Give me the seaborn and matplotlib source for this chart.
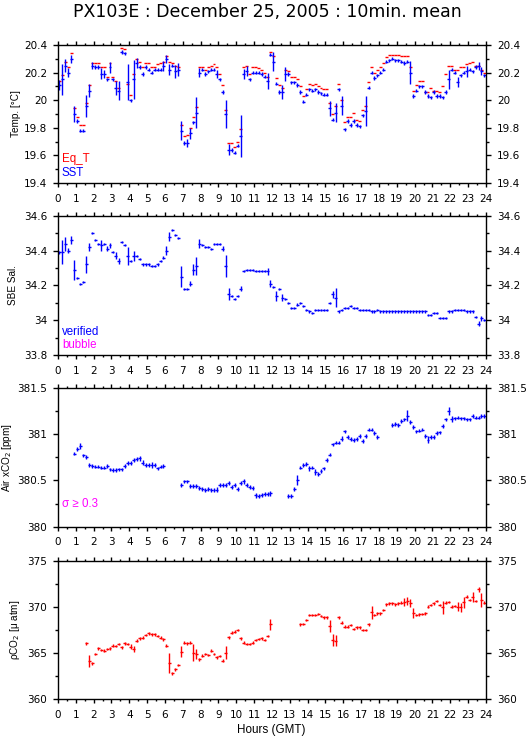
import numpy as np
import matplotlib
matplotlib.use("Agg")
import matplotlib.pyplot as plt
from matplotlib.ticker import MultipleLocator, FormatStrFormatter
import seaborn as sns

sns.set_style("ticks")
plt.rcParams["font.family"] = ["DejaVu Sans"]
plt.rcParams["text.color"] = "black"
plt.rcParams["axes.labelcolor"] = "black"

nan = np.nan

# 10 minute bins over the day (bin centres, hours GMT)
hours = np.arange(144) / 6 + 1 / 12

# ---- Temperature ----
sst = [
    20.11, 20.15, 20.25, 20.20, 20.30, 19.90, 19.85, 19.78, 19.78, 19.96,
    20.07, 20.25, 20.24, 20.24, 20.19, 20.19, 20.15, 20.24, 20.15, 20.09,
    20.07, 20.35, 20.34, 20.13, 20.00, 20.15, 20.27, 20.24, 20.19, 20.24,
    20.22, 20.20, 20.22, 20.22, 20.22, 20.25, 20.30, 20.22, 20.25, 20.21,
    20.22, 19.78, 19.69, 19.69, 19.76, 19.84, 19.91, 20.20, 20.22, 20.19,
    20.21, 20.22, 20.22, 20.19, 20.15, 20.06, 19.90, 19.64, 19.64, 19.62,
    19.67, 19.74, 20.19, 20.21, 20.15, 20.20, 20.20, 20.20, 20.19, 20.17,
    20.14, 20.33, 20.28, 20.12, 20.06, 20.06, 20.19, 20.19, 20.13, 20.13,
    20.11, 20.06, 19.99, 20.04, 20.08, 20.07, 20.08, 20.06, 20.05, 20.04,
    20.04, 19.94, 19.86, 19.91, 20.08, 19.96, 19.79, 19.85, 19.82, 19.85,
    19.82, 19.81, 19.89, 19.92, 20.09, 20.20, 20.16, 20.18, 20.20, 20.22,
    20.28, 20.29, 20.30, 20.29, 20.29, 20.28, 20.27, 20.28, 20.20, 20.03,
    20.07, 20.10, 20.10, 20.06, 20.03, 20.02, 20.06, 20.03, 20.03, 20.02,
    20.06, 20.15, 20.22, 20.20, 20.13, 20.18, 20.20, 20.21, 20.22, 20.21,
    20.24, 20.25, 20.21, 20.18,
]
eq_t = [
    20.14, 20.18, 20.28, 20.24, 20.34, 19.94, 19.88, 19.82, 19.82, 19.98,
    20.11, 20.27, 20.27, 20.27, 20.24, 20.24, 20.17, 20.27, 20.17, 20.14,
    20.09, 20.38, 20.37, 20.12, 20.04, 20.19, 20.30, 20.28, 20.24, 20.27,
    20.27, 20.24, 20.24, 20.26, 20.27, 20.28, 20.32, 20.28, 20.27, 20.25,
    20.24, 19.82, 19.74, 19.75, 19.80, 19.88, 19.95, 20.24, 20.24, 20.22,
    20.24, 20.25, 20.26, 20.24, 20.19, 20.11, 19.93, 19.69, 19.69, 19.66,
    19.70, 19.79, 20.24, 20.25, 20.19, 20.24, 20.24, 20.23, 20.22, 20.20,
    20.17, 20.35, 20.32, 20.16, 20.11, 20.09, 20.22, 20.21, 20.17, 20.17,
    20.15, 20.10, 20.03, 20.08, 20.12, 20.11, 20.12, 20.10, 20.09, 20.08,
    20.08, 19.98, 19.90, 19.96, 20.12, 20.00, 19.84, 19.88, 19.88, 19.91,
    19.86, 19.85, 19.93, 19.96, 20.13, 20.24, 20.20, 20.22, 20.24, 20.27,
    20.31, 20.33, 20.33, 20.33, 20.33, 20.32, 20.32, 20.32, 20.24, 20.07,
    20.11, 20.14, 20.14, 20.06, 20.06, 20.09, 20.07, 20.07, 20.06, 20.10,
    20.19, 20.25, 20.25, 20.22, 20.22, 20.24, 20.24, 20.26, 20.27, 20.28,
    20.25, 20.25, 20.22, 20.20,
]
sst_err_base = 0.012
sst_err_idx = [0, 1, 2, 3, 4, 5, 9, 10, 11, 14, 15, 17, 19, 20, 23, 25, 26, 35, 36, 37,
               39, 40, 41, 43, 44, 46, 47, 53, 56, 57, 61, 62, 63, 70, 72, 75, 76, 91, 93, 95,
               103, 118, 131, 134, 137, 141, 142]
sst_err_val = [0.036, 0.115, 0.048, 0.035, 0.027, 0.06, 0.08, 0.048, 0.027, 0.04, 0.027, 0.04,
               0.05, 0.07, 0.13, 0.14, 0.036, 0.036, 0.03, 0.04, 0.048, 0.048, 0.07, 0.03, 0.04,
               0.115, 0.035, 0.03, 0.1, 0.04, 0.15, 0.035, 0.036, 0.06, 0.07, 0.05, 0.05, 0.055,
               0.07, 0.07, 0.11, 0.085, 0.07, 0.035, 0.04, 0.03, 0.03]

# ---- Salinity ----
sal = [
    34.39, 34.39, 34.44, 34.40, 34.46, 34.29, 34.24, 34.21, 34.22, 34.32,
    34.42, 34.50, 34.46, 34.44, 34.43, 34.44, 34.41, 34.43, 34.39, 34.37,
    34.34, 34.45, 34.43, 34.37, 34.34, 34.37, 34.37, 34.35, 34.32, 34.32,
    34.32, 34.31, 34.31, 34.32, 34.34, 34.36, 34.40, 34.48, 34.52, 34.49,
    34.47, 34.25, 34.18, 34.18, 34.21, 34.29, 34.31, 34.44, 34.43, 34.42,
    34.42, 34.41, 34.44, 34.44, 34.44, 34.41, 34.31, 34.15, 34.14, 34.12,
    34.14, 34.18, 34.28, 34.29, 34.29, 34.29, 34.28, 34.28, 34.28, 34.28,
    34.28, 34.21, 34.19, 34.14, 34.18, 34.13, 34.12, 34.10, 34.07, 34.07,
    34.09, 34.10, 34.08, 34.06, 34.05, 34.04, 34.06, 34.06, 34.06, 34.06,
    34.06, 34.10, 34.15, 34.13, 34.05, 34.06, 34.07, 34.07, 34.08, 34.07,
    34.07, 34.06, 34.06, 34.06, 34.06, 34.05, 34.05, 34.06, 34.05, 34.05,
    34.05, 34.05, 34.05, 34.05, 34.05, 34.05, 34.05, 34.05, 34.05, 34.05,
    34.05, 34.05, 34.05, 34.05, 34.03, 34.03, 34.04, 34.04, 34.01, 34.01,
    34.01, 34.05, 34.05, 34.06, 34.06, 34.06, 34.06, 34.05, 34.05, 34.05,
    34.02, 33.98, 34.01, 34.00,
]
sal_err_base = 0.006
sal_err_idx = [0, 1, 2, 3, 4, 5, 9, 10, 14, 16, 17, 19, 20, 23, 25, 36, 37, 41, 44, 45,
               46, 47, 55, 56, 57, 61, 70, 71, 73, 75, 92, 93, 141, 142]
sal_err_val = [0.01, 0.07, 0.04, 0.015, 0.024, 0.057, 0.048, 0.024, 0.03, 0.015, 0.015, 0.02,
               0.02, 0.052, 0.03, 0.024, 0.024, 0.06, 0.015, 0.03, 0.052, 0.024, 0.015, 0.064,
               0.033, 0.015, 0.02, 0.02, 0.03, 0.02, 0.02, 0.057, 0.015, 0.015]

# ---- Air xCO2 ----
xco2 = [
    nan, nan, nan, nan, nan, 380.79, 380.84, 380.87, 380.77, 380.75,
    380.67, 380.66, 380.65, 380.65, 380.64, 380.64, 380.66, 380.62, 380.61, 380.61,
    380.62, 380.62, 380.66, 380.69, 380.69, 380.72, 380.73, 380.74, 380.69, 380.67,
    380.67, 380.67, 380.67, 380.63, 380.65, 380.66, nan, nan, nan, nan,
    nan, 380.45, 380.49, 380.49, 380.44, 380.44, 380.44, 380.42, 380.41, 380.40,
    380.41, 380.40, 380.40, 380.40, 380.45, 380.45, 380.45, 380.47, 380.43, 380.45,
    380.41, 380.47, 380.49, 380.45, 380.43, 380.42, 380.34, 380.33, 380.34, 380.35,
    380.35, 380.36, nan, nan, nan, nan, nan, 380.33, 380.33, 380.41,
    380.50, 380.64, 380.67, 380.68, 380.63, 380.64, 380.59, 380.57, 380.60, 380.63,
    380.72, 380.78, 380.89, 380.91, 380.91, 380.95, 381.03, 380.97, 380.95, 380.94,
    380.95, 380.98, 380.93, 380.98, 381.05, 381.05, 381.01, 380.97, nan, nan,
    nan, nan, 381.10, 381.11, 381.10, 381.14, 381.16, 381.20, 381.13, 381.08,
    381.03, 381.04, 381.05, 380.98, 380.94, 380.97, 380.97, 381.01, 381.02, 381.09,
    381.16, 381.25, 381.16, 381.17, 381.18, 381.17, 381.17, 381.16, 381.16, 381.20,
    381.18, 381.18, 381.20, 381.20,
]
xco2_err_base = 0.02
xco2_err_idx = [6, 7, 26, 27, 28, 31, 41, 53, 62, 66, 71, 78, 80, 84, 86, 95, 117, 124, 131, 132]
xco2_err_val = [0.025, 0.032, 0.025, 0.025, 0.027, 0.03, 0.023, 0.027, 0.027, 0.027, 0.03,
                0.023, 0.054, 0.03, 0.032, 0.027, 0.06, 0.036, 0.045, 0.032]

# ---- pCO2 ----
pco2 = [
    nan, nan, nan, nan, nan, nan, nan, nan, nan, 366.05,
    364.13, 363.88, 364.89, 365.51, 365.33, 365.25, 365.43, 365.51, 365.80, 365.76,
    365.98, 365.62, 366.05, 365.98, 365.69, 365.40, 366.34, 366.59, 366.67, 366.96,
    367.14, 367.03, 367.03, 366.85, 366.67, 366.49, 365.80, 363.88, 362.79, 363.22,
    363.70, 365.15, 366.12, 366.05, 366.12, 365.04, 364.89, 364.31, 364.71, 364.89,
    364.78, 365.25, 364.89, 364.53, 364.67, 364.17, 365.04, 366.70, 367.21, 367.32,
    367.50, 366.59, 366.12, 365.98, 365.98, 366.12, 366.41, 366.52, 366.59, 366.41,
    366.85, 368.12, nan, nan, nan, nan, nan, nan, nan, nan,
    nan, 368.12, 368.15, 368.59, 369.13, 369.13, 369.13, 369.24, 369.02, 368.88,
    368.88, 367.93, 366.41, 366.34, 368.88, 368.30, 367.86, 367.86, 368.04, 367.61,
    367.79, 367.79, 367.50, 367.50, 368.12, 369.42, 369.13, 369.31, 369.31, 369.67,
    370.29, 370.40, 370.40, 370.29, 370.40, 370.47, 370.54, 370.65, 370.47, 369.31,
    369.13, 369.20, 369.24, 369.31, 370.04, 370.22, 370.40, 370.65, 370.22, 369.96,
    370.47, 370.54, 370.04, 370.11, 370.04, 369.96, 370.54, 371.12, 370.76, 371.12,
    370.65, 371.92, 370.76, 370.47,
]
pco2_err_base = 0.15
pco2_err_idx = [10, 24, 25, 37, 41, 45, 46, 56, 71, 91, 92, 93, 105, 116, 117, 118, 119,
                129, 134, 135, 136, 139, 141, 142]
pco2_err_val = [0.63, 0.3, 0.33, 1.09, 0.63, 0.94, 0.55, 0.69, 0.63, 0.63, 0.63, 0.6, 0.72,
                0.45, 0.45, 0.45, 0.54, 0.7, 0.5, 0.5, 0.6, 0.55, 0.3, 0.72]


def errs(base, idx, val):
    e = np.full(len(hours), base)
    e[idx] = val
    return e


BLUE = "#0000ff"
RED = "#ff0000"
MAGENTA = "#ff00ff"
half_bin = 1 / 12
lab_font = ["Liberation Sans", "DejaVu Sans"]

fig = plt.figure(figsize=(5.29, 7.39), dpi=100)
L, W = 0.1096, 0.809
pos = [0.7524, 0.5196, 0.2873, 0.0541]
hgt = [0.1867, 0.1885, 0.1877, 0.1867]
axs = [fig.add_axes([L, b, W, h]) for b, h in zip(pos, hgt)]

limits = [(19.4, 20.4, 0.2, 0.1), (33.8, 34.6, 0.2, 0.1), (380, 381.5, 0.5, 0.25), (360, 375, 5, 2.5)]
ylabels = ["Temp. [°C]", "SBE Sal.", "Air xCO$_2$ [ppm]", "ρCO$_2$ [μ atm]"]
ylab_x = [-0.087, -0.093, -0.102, -0.084]

for ax, (lo, hi, maj, mnr), yl, lx in zip(axs, limits, ylabels, ylab_x):
    ax.set_xlim(0, 24)
    ax.set_ylim(lo, hi)
    ax.xaxis.set_major_locator(MultipleLocator(1))
    ax.xaxis.set_minor_locator(MultipleLocator(0.5))
    ax.yaxis.set_major_locator(MultipleLocator(maj))
    ax.yaxis.set_minor_locator(MultipleLocator(mnr))
    ax.yaxis.set_major_formatter(FormatStrFormatter("%g"))
    ax.tick_params(which="both", direction="out", top=True, right=True,
                   labelright=True, labelleft=True, width=1.0, labelsize=7.5, colors="black")
    ax.tick_params(axis="x", which="major", length=3.1, pad=4.5)
    ax.tick_params(axis="x", which="minor", length=1.6)
    ax.tick_params(axis="y", which="major", length=3.6, pad=4.3)
    ax.tick_params(axis="y", which="minor", length=2.2)
    for s in ax.spines.values():
        s.set_linewidth(1.0)
        s.set_color("black")
    ax.set_ylabel(yl, fontsize=7.2, family=lab_font, color="black")
    ax.yaxis.set_label_coords(lx, 0.5)

ekw = dict(fmt="none", elinewidth=1.0, capsize=0)

ax = axs[0]
ax.errorbar(hours, eq_t, xerr=half_bin, ecolor=RED, **ekw)
ax.errorbar(hours, sst, xerr=half_bin, yerr=errs(sst_err_base, sst_err_idx, sst_err_val), ecolor=BLUE, **ekw)
ax.text(0.009, 0.176, "Eq_T", color=RED, transform=ax.transAxes, fontsize=8.3, family=lab_font, va="center")
ax.text(0.009, 0.075, "SST", color=BLUE, transform=ax.transAxes, fontsize=8.3, family=lab_font, va="center")

ax = axs[1]
ax.errorbar(hours, sal, xerr=half_bin, yerr=errs(sal_err_base, sal_err_idx, sal_err_val), ecolor=BLUE, **ekw)
ax.text(0.009, 0.163, "verified", color=BLUE, transform=ax.transAxes, fontsize=8.3, family=lab_font, va="center")
ax.text(0.009, 0.072, "bubble", color=MAGENTA, transform=ax.transAxes, fontsize=8.3, family=lab_font, va="center")

ax = axs[2]
ax.errorbar(hours, xco2, xerr=half_bin, yerr=errs(xco2_err_base, xco2_err_idx, xco2_err_val), ecolor=BLUE, **ekw)
ax.text(0.009, 0.161, "σ ≥ 0.3", color=MAGENTA, transform=ax.transAxes, fontsize=8.3, family=lab_font, va="center")

ax = axs[3]
ax.errorbar(hours, pco2, xerr=half_bin, yerr=errs(pco2_err_base, pco2_err_idx, pco2_err_val), ecolor=RED, **ekw)

fig.text(0.512, 1 - 730 / 739, "Hours (GMT)", ha="center", va="center", fontsize=8.4, family=lab_font, color="black")
fig.text(0.506, 1 - 12 / 739, "PX103E : December 25, 2005 : 10min. mean", ha="center", va="center",
         fontsize=12.5, color="black")

fig.savefig("out.png", dpi=100)
